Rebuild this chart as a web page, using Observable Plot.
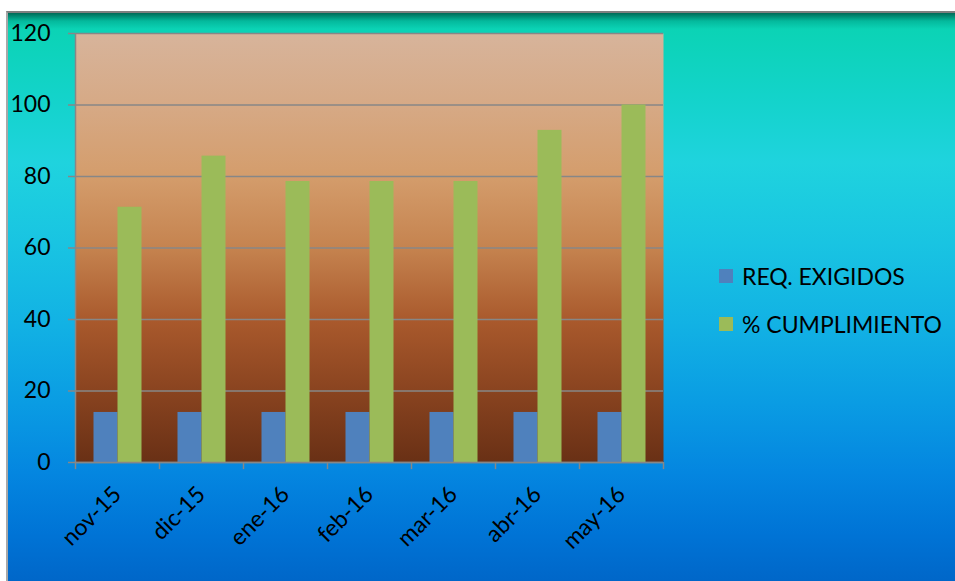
<!DOCTYPE html>
<html>
<head>
<meta charset="utf-8">
<script src="https://cdn.jsdelivr.net/npm/d3@7"></script>
<script src="https://cdn.jsdelivr.net/npm/@observablehq/plot@0.6"></script>
<style>
  html, body { margin: 0; padding: 0; background: #ffffff; }
  #stage { position: relative; width: 955px; height: 581px; overflow: hidden; background: #ffffff; font-family: Lato, "Noto Sans", sans-serif; }
  #bg { position: absolute; left: 6px; top: 11px; right: 0; bottom: 0;
        border-top: 2px solid #808080; border-left: 2px solid #a8a8a8;
        background: linear-gradient(to bottom, #006a57 0px, #04b99c 8px, #0bd3b5 16px, #14d3cc 90px, #1fd3de 150px, #19c4e2 230px, #12b2e4 310px, #0a9ce3 390px, #0486e0 460px, #0074d6 520px, #0066c8 570px); }
  #chart { position: absolute; left: 0; top: 0; }
  #legend { position: absolute; left: 719px; top: 262px; }
  .li { display: flex; align-items: center; height: 28px; margin-bottom: 20px; font-size: 23px; color: #000; white-space: nowrap; }
  .sw { width: 14px; height: 14px; margin-right: 9px; }
</style>
</head>
<body>
<svg width="0" height="0" style="position:absolute">
  <defs>
    <linearGradient id="plotbg" x1="0" y1="0" x2="0" y2="1">
      <stop offset="0" stop-color="#d7b49b"/>
      <stop offset="0.17" stop-color="#d6a985"/>
      <stop offset="0.33" stop-color="#d49d6c"/>
      <stop offset="0.5" stop-color="#c5834f"/>
      <stop offset="0.67" stop-color="#a9592c"/>
      <stop offset="0.83" stop-color="#8a4420"/>
      <stop offset="1" stop-color="#693015"/>
    </linearGradient>
  </defs>
</svg>
<div id="stage">
  <div id="bg"></div>
  <div id="chart"></div>
  <div id="legend"></div>
</div>
<script>
const months = ["nov-15", "dic-15", "ene-16", "feb-16", "mar-16", "abr-16", "may-16"];
const series = ["REQ. EXIGIDOS", "% CUMPLIMIENTO"];
const reqExigidos = [14, 14, 14, 14, 14, 14, 14];
const cumplimiento = [71.4, 85.7, 78.6, 78.6, 78.6, 92.9, 100];
const yTicks = [0, 20, 40, 60, 80, 100, 120];
const colors = ["#4f81bd", "#9bbb59"];

const reqData = months.map((m, i) => ({month: m, value: reqExigidos[i], series: series[0]}));
const cumData = months.map((m, i) => ({month: m, value: cumplimiento[i], series: series[1]}));

const W = 955, H = 581;
const mL = 75, mR = 292, mT = 33, mB = 119;
const step = (W - mL - mR) / months.length;
const grey = "#878787";

const plot = Plot.plot({
  width: W, height: H,
  marginLeft: mL, marginRight: mR, marginTop: mT, marginBottom: mB,
  style: {background: "transparent", fontFamily: "Lato, 'Noto Sans', sans-serif", fontSize: "23px", color: "#000", overflow: "visible"},
  x: {domain: months, padding: 0, label: null},
  y: {domain: [0, 120], label: null},
  color: {domain: series, range: colors},
  marks: [
    Plot.frame({fill: "url(#plotbg)", stroke: "none"}),
    Plot.gridY(yTicks, {stroke: grey, strokeOpacity: 1, strokeWidth: 1.5}),
    Plot.barY(reqData, {x: "month", y: "value", fill: "series", insetLeft: step / 2 - 12, insetRight: step / 2 - 12, dx: -11.5}),
    Plot.barY(cumData, {x: "month", y: "value", fill: "series", insetLeft: step / 2 - 12, insetRight: step / 2 - 12, dx: 12.5}),
    Plot.ruleY([0], {stroke: grey, strokeWidth: 1.5}),
    Plot.ruleX([months[0]], {x: d => d, y1: 0, y2: 120, dx: -step / 2, stroke: grey, strokeWidth: 1.5}),
    Plot.ruleX(months, {x: d => d, y1: -2, y2: 0, dx: -step / 2, stroke: grey, strokeWidth: 1.5}),
    Plot.ruleX([months[months.length - 1]], {x: d => d, y1: -2, y2: 0, dx: step / 2, stroke: grey, strokeWidth: 1.5}),
    Plot.axisY(yTicks, {tickSize: 7, tickPadding: 18, stroke: grey, strokeWidth: 1.5, fill: "#000", fontSize: 23}),
    Plot.axisX({tickSize: 0, tickPadding: 28, tickRotate: -45, fill: "#000", fontSize: 23, label: null})
  ]
});
document.getElementById("chart").appendChild(plot);

const legend = document.getElementById("legend");
series.forEach((s, i) => {
  const row = document.createElement("div");
  row.className = "li";
  const sw = document.createElement("div");
  sw.className = "sw";
  sw.style.background = plot.scale("color").apply(s);
  const tx = document.createElement("span");
  tx.textContent = s;
  row.appendChild(sw);
  row.appendChild(tx);
  legend.appendChild(row);
});
</script>
</body>
</html>
